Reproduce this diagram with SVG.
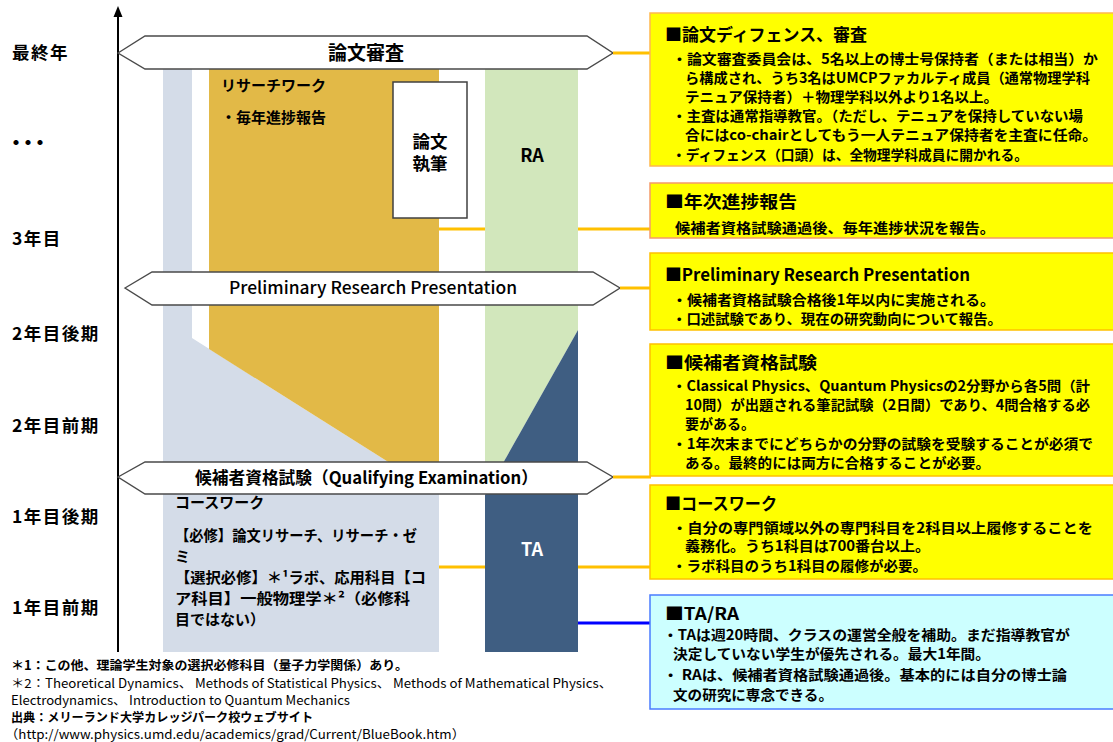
<svg xmlns="http://www.w3.org/2000/svg" width="1113" height="742" viewBox="0 0 1113 742">
<style>
text{font-family:"Noto Sans CJK JP","Noto Sans",sans-serif;fill:#000;}
.b{font-weight:bold;}
.lab{font-size:17.5px;font-weight:bold;letter-spacing:1.5px;}
.hex{fill:#fff;stroke:#4a4a4a;stroke-width:1.4;}
.box{fill:#ffff00;stroke:#ffc000;stroke-width:1.5;}
.ttl{font-size:17px;font-weight:bold;}
.bd{font-size:14px;font-weight:bold;}
.col{font-size:15px;font-weight:bold;}
.fn{font-size:12.5px;}
.yl{stroke:#ffc000;stroke-width:3;fill:none;}
.bl{stroke:#0000ff;stroke-width:3;fill:none;}
</style>

<!-- left time labels -->
<g id="time-labels">
<text class="lab" x="12" y="59">最終年</text>
<text x="6" y="150" font-size="20" font-weight="bold" letter-spacing="-8">・・・</text>
<text class="lab" x="12" y="245">3年目</text>
<text class="lab" x="12" y="340">2年目後期</text>
<text class="lab" x="12" y="432">2年目前期</text>
<text class="lab" x="12" y="523">1年目後期</text>
<text class="lab" x="12" y="614">1年目前期</text>
</g>

<!-- columns -->
<g id="coursework-col">
<polygon points="163,69 192,69 192,338 439,494 439,652 163,652" fill="#d4dce8"/>
<text class="col" x="175" y="508">コースワーク</text>
<text class="col" x="175" y="541" textLength="242" lengthAdjust="spacingAndGlyphs">【必修】論文リサーチ、リサーチ・ゼ</text>
<text class="col" x="175" y="562">ミ</text>
<text class="col" x="175" y="583" textLength="251" lengthAdjust="spacingAndGlyphs">【選択必修】＊¹ラボ、応用科目【コ</text>
<text class="col" x="175" y="604" textLength="235" lengthAdjust="spacingAndGlyphs">ア科目】一般物理学＊²（必修科</text>
<text class="col" x="175" y="625">目ではない）</text>
</g>
<g id="researchwork-col">
<polygon points="209,69 439,69 439,494 209,349" fill="#e2b947"/>
<text class="col" x="221" y="91">リサーチワーク</text>
<text class="col" x="221" y="123">・毎年進捗報告</text>
</g>
<g id="thesis-writing">
<rect x="393" y="82" width="74" height="136" fill="#fff" stroke="#404040" stroke-width="1.5"/>
<text class="b" x="430" y="148" font-size="17.5" text-anchor="middle">論文</text>
<text class="b" x="430" y="170" font-size="17.5" text-anchor="middle">執筆</text>
</g>
<g id="ra-col">
<polygon points="485,69 578,69 578,330 485,495" fill="#d2e7bc"/>
<text x="532" y="162" font-size="18" font-weight="bold" text-anchor="middle">RA</text>
</g>
<g id="ta-col">
<polygon points="578,330 578,652 485,652 485,495" fill="#3f5e82"/>
<text x="532" y="556" font-size="18" font-weight="bold" text-anchor="middle" style="fill:#fff">TA</text>
</g>

<!-- axis -->
<g id="axis">
<line x1="118" y1="652" x2="118" y2="14" stroke="#000" stroke-width="2"/>
<polygon points="118,6 113.5,17 122.5,17" fill="#000"/>
</g>

<!-- milestones -->
<g id="milestone-defense">
<polygon class="hex" points="118,53 145,36 587,36 613,53 587,69 145,69"/>
<text class="b" x="366" y="60" font-size="19" text-anchor="middle">論文審査</text>
</g>
<g id="milestone-prelim">
<polygon class="hex" points="125,288 152,272 593,272 620,288 593,305 152,305"/>
<text x="229" y="294" font-size="17" font-weight="500" textLength="288" lengthAdjust="spacingAndGlyphs">Preliminary Research Presentation</text>
</g>
<g id="milestone-qe">
<polygon class="hex" points="118,477 145,462 587,462 613,477 587,494 145,494"/>
<text class="b" x="195" y="484" font-size="17" textLength="343" lengthAdjust="spacingAndGlyphs">候補者資格試験（Qualifying Examination）</text>
</g>

<!-- connectors -->
<g id="connectors">
<line class="yl" x1="613" y1="53" x2="651" y2="53"/>
<line class="yl" x1="439" y1="229" x2="485" y2="229"/>
<line class="yl" x1="578" y1="229" x2="651" y2="229"/>
<line class="yl" x1="620" y1="288" x2="651" y2="288"/>
<line class="yl" x1="613" y1="477" x2="651" y2="477"/>
<line class="yl" x1="439" y1="567" x2="485" y2="567"/>
<line class="yl" x1="578" y1="567" x2="651" y2="567"/>
<line class="bl" x1="578" y1="623" x2="651" y2="623"/>
</g>

<!-- right info boxes -->
<g id="box-defense">
<rect class="box" x="650" y="13" width="470" height="153" style="stroke:#ffb84d"/>
<text class="ttl" x="665" y="41" textLength="202" lengthAdjust="spacingAndGlyphs">■論文ディフェンス、審査</text>
<text class="bd" x="672" y="63.5" textLength="426" lengthAdjust="spacingAndGlyphs">・論文審査委員会は、5名以上の博士号保持者（または相当）か</text>
<text class="bd" x="685" y="82.5" textLength="405" lengthAdjust="spacingAndGlyphs">ら構成され、うち3名はUMCPファカルティ成員（通常物理学科</text>
<text class="bd" x="685" y="101.5" textLength="313" lengthAdjust="spacingAndGlyphs">テニュア保持者）＋物理学科以外より1名以上。</text>
<text class="bd" x="672" y="120.5" textLength="411" lengthAdjust="spacingAndGlyphs">・主査は通常指導教官。（ただし、テニュアを保持していない場</text>
<text class="bd" x="685" y="139.5" textLength="412" lengthAdjust="spacingAndGlyphs">合にはco-chairとしてもう一人テニュア保持者を主査に任命。</text>
<text class="bd" x="672" y="159.5" textLength="356" lengthAdjust="spacingAndGlyphs">・ディフェンス（口頭）は、全物理学科成員に開かれる。</text>
</g>
<g id="box-annual">
<rect class="box" x="650" y="183" width="470" height="55" style="stroke:#f59a6a"/>
<text class="ttl" x="665" y="208" textLength="132" lengthAdjust="spacingAndGlyphs">■年次進捗報告</text>
<text class="bd" x="675" y="232.5" textLength="320" lengthAdjust="spacingAndGlyphs">候補者資格試験通過後、毎年進捗状況を報告。</text>
</g>
<g id="box-prelim">
<rect class="box" x="650" y="253" width="470" height="77"/>
<text class="ttl" x="665" y="281" textLength="305" lengthAdjust="spacingAndGlyphs">■Preliminary Research Presentation</text>
<text class="bd" x="672" y="304.5" textLength="323" lengthAdjust="spacingAndGlyphs">・候補者資格試験合格後1年以内に実施される。</text>
<text class="bd" x="672" y="323.5" textLength="330" lengthAdjust="spacingAndGlyphs">・口述試験であり、現在の研究動向について報告。</text>
</g>
<g id="box-qe">
<rect class="box" x="650" y="344" width="470" height="132"/>
<text class="ttl" x="665" y="369" textLength="152" lengthAdjust="spacingAndGlyphs">■候補者資格試験</text>
<text class="bd" x="672" y="390.5" textLength="418" lengthAdjust="spacingAndGlyphs">・Classical Physics、Quantum Physicsの2分野から各5問（計</text>
<text class="bd" x="685" y="409.5" textLength="405" lengthAdjust="spacingAndGlyphs">10問）が出題される筆記試験（2日間）であり、4問合格する必</text>
<text class="bd" x="685" y="428.5">要がある。</text>
<text class="bd" x="672" y="448.5" textLength="421" lengthAdjust="spacingAndGlyphs">・1年次末までにどちらかの分野の試験を受験することが必須で</text>
<text class="bd" x="685" y="467.5" textLength="305" lengthAdjust="spacingAndGlyphs">ある。最終的には両方に合格することが必要。</text>
</g>
<g id="box-coursework">
<rect class="box" x="650" y="485" width="470" height="94"/>
<text class="ttl" x="665" y="510" textLength="112" lengthAdjust="spacingAndGlyphs">■コースワーク</text>
<text class="bd" x="672" y="532.5" textLength="421" lengthAdjust="spacingAndGlyphs">・自分の専門領域以外の専門科目を2科目以上履修することを</text>
<text class="bd" x="685" y="550.5" textLength="245" lengthAdjust="spacingAndGlyphs">義務化。うち1科目は700番台以上。</text>
<text class="bd" x="672" y="571" textLength="255" lengthAdjust="spacingAndGlyphs">・ラボ科目のうち1科目の履修が必要。</text>
</g>
<g id="box-tara">
<rect x="650" y="595" width="470" height="114" fill="#ccffff" stroke="#4a7cff" stroke-width="1.5"/>
<text class="ttl" x="665" y="620" textLength="74" lengthAdjust="spacingAndGlyphs">■TA/RA</text>
<text class="bd" x="663" y="639.5" textLength="407" lengthAdjust="spacingAndGlyphs">・TAは週20時間、クラスの運営全般を補助。まだ指導教官が</text>
<text class="bd" x="673" y="658.5" textLength="317" lengthAdjust="spacingAndGlyphs">決定していない学生が優先される。最大1年間。</text>
<text class="bd" x="663" y="679.5" textLength="404" lengthAdjust="spacingAndGlyphs">・ RAは、候補者資格試験通過後。基本的には自分の博士論</text>
<text class="bd" x="673" y="699.5" textLength="160" lengthAdjust="spacingAndGlyphs">文の研究に専念できる。</text>
</g>

<!-- footnotes -->
<g id="footnotes">
<text class="fn b" x="11" y="670" textLength="397" lengthAdjust="spacingAndGlyphs">＊1：この他、理論学生対象の選択必修科目（量子力学関係）あり。</text>
<text class="fn" x="11" y="688" textLength="601" lengthAdjust="spacingAndGlyphs">＊2：Theoretical Dynamics、 Methods of Statistical Physics、 Methods of Mathematical Physics、</text>
<text class="fn" x="11" y="705" textLength="339" lengthAdjust="spacingAndGlyphs">Electrodynamics、 Introduction to Quantum Mechanics</text>
<text class="fn b" x="11" y="722" textLength="302" lengthAdjust="spacingAndGlyphs">出典：メリーランド大学カレッジパーク校ウェブサイト</text>
<text class="fn" x="5" y="738.5" textLength="460" lengthAdjust="spacingAndGlyphs">（http://www.physics.umd.edu/academics/grad/Current/BlueBook.htm）</text>
</g>
</svg>
